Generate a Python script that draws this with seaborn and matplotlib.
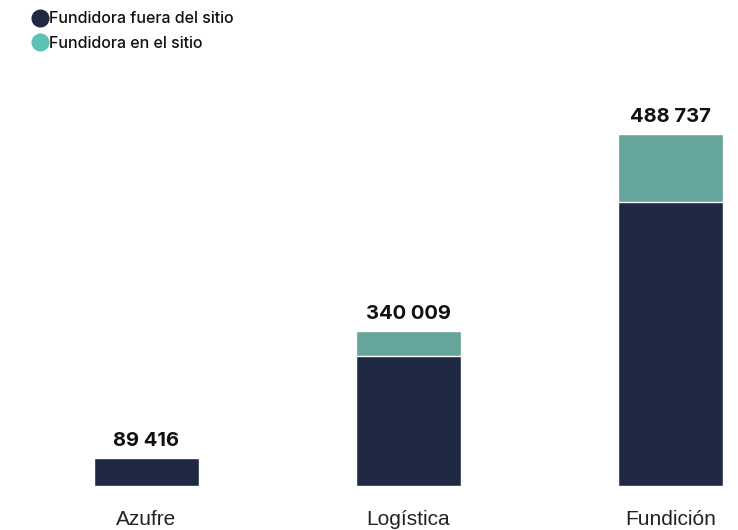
import numpy as np
import pandas as pd
import matplotlib
matplotlib.use("Agg")
import matplotlib.pyplot as plt
import seaborn as sns
from matplotlib.lines import Line2D

# data (bar heights are relative, labels are the printed totals)
categories = ["Azufre", "Logística", "Fundición"]
fuera_sitio = [28, 130, 284]
en_sitio = [0, 25, 68]
total_labels = ["89 416", "340 009", "488 737"]
series_names = ["Fundidora fuera del sitio", "Fundidora en el sitio"]

dark = "#1f2944"
teal = "#66a59b"
teal_dot = "#5cc3b4"

sns.set_theme(style="white")
plt.rcParams["font.family"] = ["Inter", "DejaVu Sans"]

df = pd.DataFrame({"cat": categories, "fuera": fuera_sitio, "en": en_sitio})
df["total"] = df["fuera"] + df["en"]

fig = plt.figure(figsize=(7.38, 5.30), dpi=100)
ax = fig.add_axes([94 / 738, 44 / 530, 629 / 738, 386 / 530])

sns.barplot(data=df, x="cat", y="total", color=teal, width=0.4, saturation=1, ax=ax)
sns.barplot(data=df, x="cat", y="fuera", color=dark, width=0.4, saturation=1, ax=ax)

ax.set_xlim(-0.2, 2.2)
ax.set_ylim(0, 386)
ax.set_xlabel("")
ax.set_ylabel("")
ax.set_yticks([])
sns.despine(ax=ax, left=True, bottom=True)
ax.tick_params(axis="x", length=0, pad=17, labelsize=15, labelcolor="#222222")
for t in ax.get_xticklabels():
    t.set_family(["Liberation Sans", "DejaVu Sans"])

for i, lab in enumerate(total_labels):
    ax.annotate(lab, (i, df["total"][i]), xytext=(0, 6), textcoords="offset points",
                ha="center", va="bottom", fontsize=14.5, fontweight="bold", color="#111111")

handles = [Line2D([], [], marker="o", linestyle="", markersize=12, color=dark),
           Line2D([], [], marker="o", linestyle="", markersize=12, color=teal_dot)]
leg = fig.legend(handles, series_names, loc="upper left", bbox_to_anchor=(22 / 738, 1),
                 frameon=False, fontsize=11.5, handlelength=0.9, handletextpad=0.1,
                 labelspacing=0.6, borderpad=0.2)
for t in leg.get_texts():
    t.set_fontweight("medium")
    t.set_color("#111111")

fig.savefig("out.png", dpi=100)
